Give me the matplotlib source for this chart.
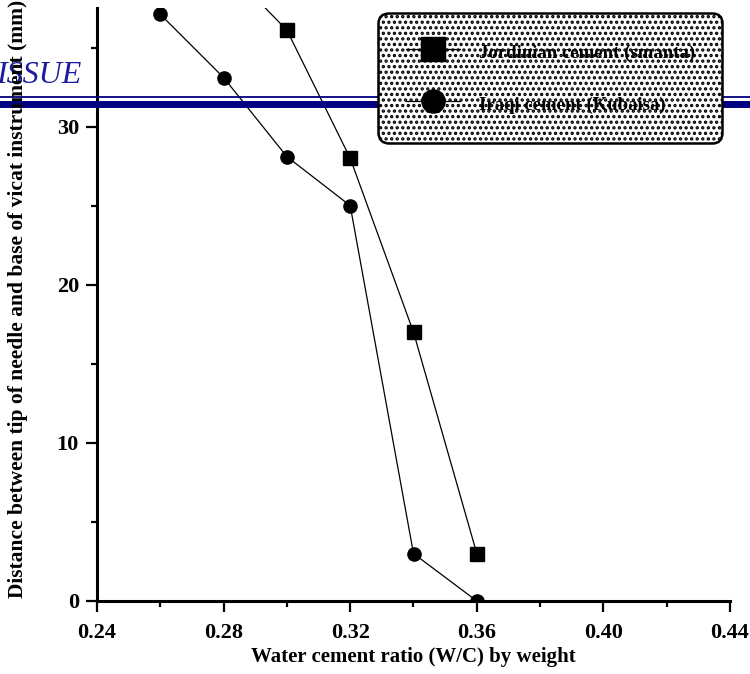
import matplotlib
matplotlib.use("Agg")
import matplotlib.pyplot as plt
from matplotlib.lines import Line2D
from matplotlib.ticker import MultipleLocator, FormatStrFormatter

plt.rcParams['font.family'] = ['Liberation Serif', 'DejaVu Serif']
plt.rcParams['font.weight'] = 'bold'
plt.rcParams['hatch.linewidth'] = 1.6

# data
wc_jordan = [0.28, 0.30, 0.32, 0.34, 0.36]
dist_jordan = [40.2, 36.1, 28.0, 17.0, 3.0]
wc_iraqi = [0.26, 0.28, 0.30, 0.32, 0.34, 0.36]
dist_iraqi = [37.1, 33.1, 28.1, 25.0, 3.0, 0.0]

W, H = 750, 674
fig = plt.figure(figsize=(7.5, 6.74), dpi=100)
ax = fig.add_axes([97 / W, 1 - 601 / H, (730 - 97) / W, (601 - 8) / H])

ax.plot(wc_jordan, dist_jordan, color='black', lw=0.9, marker='s', ms=9.5,
        label='Jordinian cement (smanta)', zorder=3)
ax.plot(wc_iraqi, dist_iraqi, color='black', lw=0.9, marker='o', ms=9.5,
        label='Iraqi cement (Kubaisa)', zorder=3)

ax.set_xlim(0.24, 0.44)
ax.set_ylim(0, 37.5)
ax.xaxis.set_major_locator(MultipleLocator(0.04))
ax.xaxis.set_minor_locator(MultipleLocator(0.02))
ax.xaxis.set_major_formatter(FormatStrFormatter('%.2f'))
ax.yaxis.set_major_locator(MultipleLocator(10))
ax.yaxis.set_minor_locator(MultipleLocator(5))

for s in ['top', 'right']:
    ax.spines[s].set_visible(False)
for s in ['left', 'bottom']:
    ax.spines[s].set_linewidth(2.2)
    ax.spines[s].set_clip_on(False)

ax.tick_params(which='major', direction='out', length=8, width=1.6, labelsize=16)
ax.tick_params(axis='x', which='major', pad=8)
ax.tick_params(axis='y', which='major', pad=5)
ax.tick_params(which='minor', direction='out', length=4.5, width=1.6)
for lab in ax.get_xticklabels() + ax.get_yticklabels():
    lab.set_fontweight('bold')

ax.set_xlabel('Water cement ratio (W/C) by weight', fontsize=15, fontweight='bold', labelpad=3)
ax.text(18 / W, 1 - 598 / H,
        'Distance between tip of needle and base of vicat instrument (mm)',
        transform=fig.transFigure, rotation=90, ha='center', va='bottom',
        fontsize=15.5, fontweight='bold', zorder=6)

# journal header overlay
ax.text(-4 / W, 1 - 83 / H, 'ISSUE', transform=fig.transFigure, ha='left',
        va='baseline', fontsize=23, style='italic', fontweight='normal',
        color='#1c1c9c', zorder=1, clip_on=False)
ax.add_line(Line2D([0, 1], [1 - 97 / H] * 2, transform=fig.transFigure,
                   color='#000080', lw=1.3, clip_on=False, zorder=4))
ax.add_line(Line2D([0, 1], [1 - 103.5 / H] * 2, transform=fig.transFigure,
                   color='#000080', lw=5, clip_on=False, zorder=4))

leg = ax.legend(loc='upper right', bbox_to_anchor=(722 / W, 1 - 13 / H),
                bbox_transform=fig.transFigure, borderaxespad=0,
                markerscale=1.75, handlelength=2.9, handleheight=1.6,
                handletextpad=1.0, labelspacing=1.45, borderpad=1.45,
                fancybox=True, framealpha=1,
                prop={'weight': 'bold', 'size': 13.5})
frame = leg.get_frame()
frame.set_facecolor('white')
frame.set_edgecolor('black')
frame.set_linewidth(1.8)
frame.set_hatch('...')
frame.set_boxstyle('round,pad=0,rounding_size=0.55')
leg.set_zorder(5)

fig.savefig('out.png', dpi=100)
